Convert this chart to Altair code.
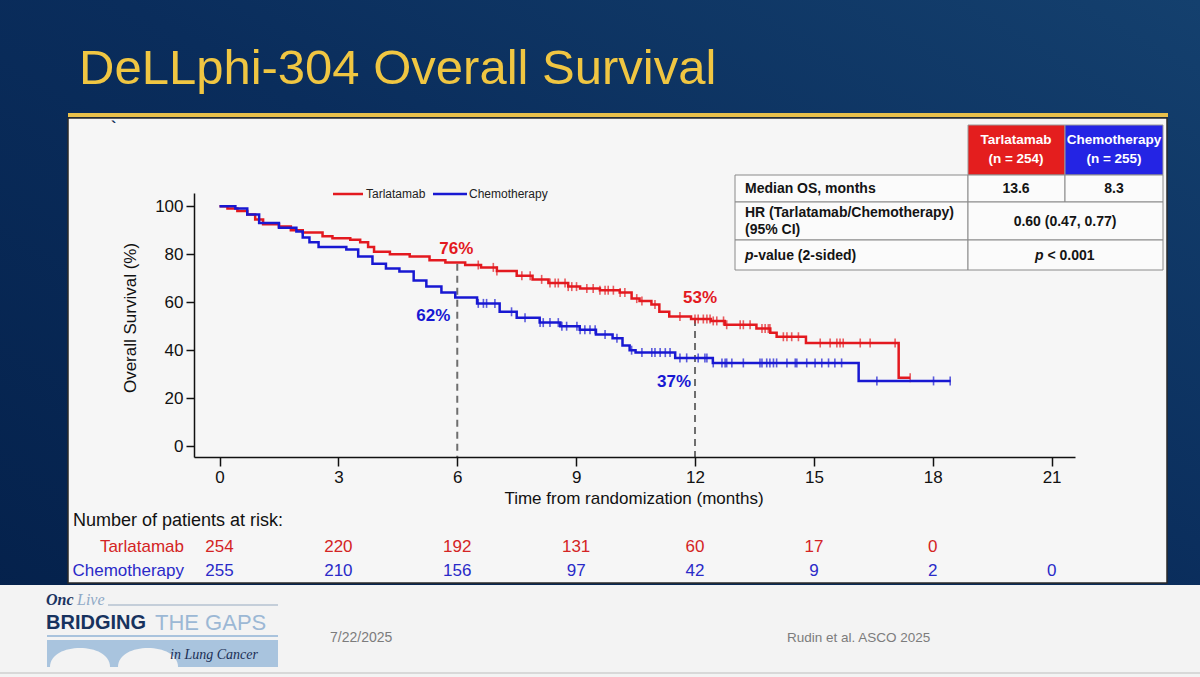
import altair as alt
import numpy as np
import pandas as pd

FONT = "Liberation Sans"
SERIF = "Liberation Serif"

# ---------------- data ----------------
arms = ["Tarlatamab", "Chemotherapy"]
arm_colors = ["#E3191F", "#1818D2"]
risk_colors = ["#D42424", "#2A2AC8"]

tar_time = [0, 0.2, 0.45, 0.7, 0.9, 1.1, 1.5, 1.8, 2.1, 2.6, 2.85, 3.3, 3.55, 3.75, 3.9,
            4.3, 4.8, 5.3, 5.7, 6.2, 6.6, 7.0, 7.5, 7.9, 8.3, 8.8, 9.1, 9.6, 10.1, 10.4,
            10.6, 10.9, 11.1, 11.35, 11.9, 12.4, 12.75, 13.55, 13.9, 14.06, 14.8, 17.14, 17.43]
tar_surv = [100, 99, 98, 96.5, 94.5, 92.5, 91.5, 90, 89, 87.5, 86.6, 86, 85, 83, 81,
            80, 79, 77.5, 76.5, 75.5, 74.5, 73, 71, 69.5, 68, 66.5, 65.7, 65, 64, 61.5,
            60.5, 59, 56, 54, 53, 52.2, 50.6, 49, 47.3, 45.6, 43, 28.5, 28.5]

chemo_time = [0, 0.4, 0.7, 1.0, 1.5, 1.94, 2.1, 2.27, 2.5, 3.2, 3.5, 3.86, 4.2, 4.54, 4.9,
              5.22, 5.6, 5.95, 6.5, 7.07, 7.5, 8.08, 8.6, 9.09, 9.5, 9.92, 10.17, 10.35, 10.5,
              11.5, 12.45, 16.13, 18.45]
chemo_surv = [100, 99, 96.5, 93, 91, 89.5, 87, 85, 83, 82, 79, 76, 74, 72.8, 69,
              66.5, 64, 62, 59.5, 56, 53.5, 51.5, 50, 48.5, 46.5, 45, 42, 40, 39,
              36.8, 34.7, 27.2, 27.2]

tar_censor = [6.53, 6.91, 7.0, 7.63, 7.84, 8.13, 8.34, 8.47, 8.55, 8.72, 8.8, 8.89, 9.01, 9.27,
              9.43, 9.6, 9.73, 9.81, 9.94, 10.11, 10.23, 10.53, 10.66, 10.99, 11.62, 12.0, 12.08,
              12.21, 12.3, 12.38, 12.46, 12.55, 12.72, 12.8, 13.14, 13.22, 13.39, 13.69, 13.77,
              13.85, 13.89, 14.23, 14.32, 14.44, 14.61, 15.16, 15.41, 15.58, 15.66, 15.74, 16.17,
              16.42, 17.05, 17.43]
chemo_censor = [6.53, 6.66, 6.74, 6.95, 7.37, 7.71, 8.09, 8.17, 8.34, 8.55, 8.64, 8.76, 9.02, 9.1,
                9.22, 9.35, 9.48, 9.73, 10.03, 10.4, 10.66, 10.91, 10.99, 11.12, 11.25, 11.37,
                11.62, 11.79, 12.08, 12.25, 12.3, 12.46, 12.68, 12.76, 12.8, 12.93, 13.22, 13.64,
                13.69, 13.81, 13.89, 13.98, 14.06, 14.32, 14.53, 14.57, 14.82, 15.03, 15.2, 15.37,
                15.53, 15.7, 16.59, 18.02, 18.44]

landmark_time = [6, 12]
tar_landmark = [76, 53]
chemo_landmark = [62, 37]

risk_time = [0, 3, 6, 9, 12, 15, 18, 21]
tar_risk = [254, 220, 192, 131, 60, 17, 0]
chemo_risk = [255, 210, 156, 97, 42, 9, 2, 0]

x_ticks = [0, 3, 6, 9, 12, 15, 18, 21]
y_ticks = [0, 20, 40, 60, 80, 100]

# ---------------- frames ----------------
curves = {
    "Tarlatamab": pd.DataFrame({"t": tar_time, "s": tar_surv}),
    "Chemotherapy": pd.DataFrame({"t": chemo_time, "s": chemo_surv}),
}


def step_value(times, surv, t):
    idx = np.searchsorted(np.array(times), np.array(t), side="right") - 1
    return list(np.array(surv)[idx])


censors = {
    "Tarlatamab": pd.DataFrame({"t": tar_censor, "s": step_value(tar_time, tar_surv, tar_censor)}),
    "Chemotherapy": pd.DataFrame({"t": chemo_censor, "s": step_value(chemo_time, chemo_surv, chemo_censor)}),
}
risks = {
    "Tarlatamab": pd.DataFrame({"t": risk_time[:len(tar_risk)], "n": tar_risk}),
    "Chemotherapy": pd.DataFrame({"t": risk_time[:len(chemo_risk)], "n": chemo_risk}),
}
landmarks = pd.DataFrame({"t": landmark_time, "top": tar_landmark})

# ---------------- layout ----------------
OX, OY = 194, 193          # plot-area origin on the page
W, H = 881, 264
XDOM = [-0.644, 21.59]
YDOM = [-4.5, 105.5]
one = pd.DataFrame({"k": [0]})

xs = alt.Scale(domain=XDOM, nice=False, zero=False)
ys = alt.Scale(domain=YDOM, nice=False, zero=False)
AX_X = alt.Axis(values=x_ticks, title=None, grid=False, labelFont=FONT, labelFontSize=17,
                labelColor="#111111", tickSize=9, tickWidth=1.5, tickColor="#111111",
                domainColor="#111111", domainWidth=1.5, labelPadding=3, labelFlush=False,
                zindex=1, format="d")
AX_Y = alt.Axis(values=y_ticks, title=None, grid=False, labelFont=FONT, labelFontSize=17,
                labelColor="#111111", tickSize=8, tickWidth=1.5, tickColor="#111111",
                domainColor="#111111", domainWidth=1.5, labelPadding=3, zindex=1, format="d")


def px(x):
    return x - OX


def py(y):
    return y - OY


def rect(x0, y0, x1, y1, fill, **kw):
    return alt.Chart(one).mark_rect(fill=fill, **kw).encode(
        x=alt.value(px(x0)), x2=alt.value(px(x1)), y=alt.value(py(y0)), y2=alt.value(py(y1)))


def hline(x0, x1, y, color, width, **kw):
    return alt.Chart(one).mark_rule(color=color, strokeWidth=width, **kw).encode(
        x=alt.value(px(x0)), x2=alt.value(px(x1)), y=alt.value(py(y)))


def text(s, x, y, size, color, weight="normal", align="left", style="normal",
         font=FONT, baseline="middle", **kw):
    return alt.Chart(one).mark_text(text=s, fontSize=size, color=color, fontWeight=weight,
                                    align=align, fontStyle=style, font=font,
                                    baseline=baseline, **kw).encode(
        x=alt.value(px(x)), y=alt.value(py(y)))


layers = []

# slide background
grad = alt.Gradient(gradient="linear", x1=0, y1=1, x2=1, y2=0,
                    stops=[alt.GradientStop(color="#04204A", offset=0),
                           alt.GradientStop(color="#0A2D5C", offset=0.55),
                           alt.GradientStop(color="#14406E", offset=1)])
layers.append(rect(0, 0, 1200, 677, grad))
layers.append(rect(0, 585, 1200, 677, "#F3F3F3"))
layers.append(hline(0, 1200, 673, "#CFCFCF", 1.5))

# title + yellow rule
layers.append(text("DeLLphi-304 Overall Survival", 79, 84, 49, "#F0C642", baseline="alphabetic"))
layers.append(rect(68, 113, 1168, 117, "#E9C04A"))

# white panel
layers.append(rect(68, 118, 1167, 583, "#F6F6F6", stroke="#2A2A2A", strokeWidth=1.5))
layers.append(text("`", 111, 128, 16, "#0E2B55", weight="bold"))

# summary table
layers.append(rect(968, 125, 1065, 175, "#E41E1E", stroke="#9A9A9A", strokeWidth=1))
layers.append(rect(1065, 125, 1163, 175, "#2424E4", stroke="#9A9A9A", strokeWidth=1))
for (y0, y1) in [(175, 202), (202, 240), (240, 270)]:
    layers.append(rect(735, y0, 968, y1, "#FBFBFB", stroke="#8A8A8A", strokeWidth=1))
layers.append(rect(968, 175, 1065, 202, "#FBFBFB", stroke="#8A8A8A", strokeWidth=1))
layers.append(rect(1065, 175, 1163, 202, "#FBFBFB", stroke="#8A8A8A", strokeWidth=1))
layers.append(rect(968, 202, 1163, 240, "#FBFBFB", stroke="#8A8A8A", strokeWidth=1))
layers.append(rect(968, 240, 1163, 270, "#FBFBFB", stroke="#8A8A8A", strokeWidth=1))
for xc, name, n in [(1016, arms[0], "(n = 254)"), (1114, arms[1], "(n = 255)")]:
    layers.append(text(name, xc, 140, 13.5, "#FFFFFF", weight="bold", align="center"))
    layers.append(text(n, xc, 159, 13.5, "#FFFFFF", weight="bold", align="center"))
TC = "#141414"
layers.append(text("Median OS, months", 745, 189, 14, TC, weight="bold"))
layers.append(text("13.6", 1016, 189, 14, TC, weight="bold", align="center"))
layers.append(text("8.3", 1114, 189, 14, TC, weight="bold", align="center"))
layers.append(text("HR (Tarlatamab/Chemotherapy)", 745, 213, 14, TC, weight="bold"))
layers.append(text("(95% CI)", 745, 230, 14, TC, weight="bold"))
layers.append(text("0.60 (0.47, 0.77)", 1065, 222, 14, TC, weight="bold", align="center"))
layers.append(text("p", 745, 256, 14, TC, weight="bold", style="italic"))
layers.append(text("-value (2-sided)", 753.5, 256, 14, TC, weight="bold"))
layers.append(text("p", 1035, 256, 14, TC, weight="bold", style="italic"))
layers.append(text("< 0.001", 1047.5, 256, 14, TC, weight="bold"))

# legend
layers.append(hline(333, 363, 194, arm_colors[0], 2.5))
layers.append(text(arms[0], 366, 194, 12, "#222222"))
layers.append(hline(433, 467, 194, arm_colors[1], 2.5))
layers.append(text(arms[1], 469, 194, 12, "#222222"))

# landmark dashed lines
layers.append(alt.Chart(landmarks).mark_rule(color="#6E6E6E", strokeWidth=2, strokeDash=[7, 5]).encode(
    x=alt.X("t:Q", scale=xs, axis=AX_X), y=alt.Y("top:Q", scale=ys, axis=AX_Y), y2=alt.value(H)))

# KM curves and censor ticks
for arm, col in zip(arms, arm_colors):
    layers.append(alt.Chart(curves[arm]).mark_line(interpolate="step-after", color=col, strokeWidth=2.5).encode(
        x=alt.X("t:Q", scale=xs, axis=AX_X), y=alt.Y("s:Q", scale=ys, axis=AX_Y)))
    layers.append(alt.Chart(censors[arm]).mark_tick(orient="vertical", color=col, size=9, thickness=1.6).encode(
        x=alt.X("t:Q", scale=xs, axis=AX_X), y=alt.Y("s:Q", scale=ys, axis=AX_Y)))

# landmark annotations
ann = [
    (landmark_time[0], tar_landmark[0], arm_colors[0], -1, -15),
    (landmark_time[0], chemo_landmark[0], arm_colors[1], -24, 19),
    (landmark_time[1], tar_landmark[1], arm_colors[0], 5, -21),
    (landmark_time[1], chemo_landmark[1], arm_colors[1], -21, 25),
]
for t, v, col, dx, dy in ann:
    d = pd.DataFrame({"t": [t], "v": [v], "lab": [f"{v}%"]})
    layers.append(alt.Chart(d).mark_text(font=FONT, fontSize=17, fontWeight="bold", color=col,
                                         dx=dx, dy=dy, baseline="middle", align="center").encode(
        x=alt.X("t:Q", scale=xs, axis=AX_X), y=alt.Y("v:Q", scale=ys, axis=AX_Y), text="lab:N"))

# axis titles
layers.append(text("Time from randomization (months)", 634, 499, 17, "#111111", align="center"))
layers.append(text("Overall Survival (%)", 131, 318, 17, "#111111", align="center", angle=270))

# numbers at risk
layers.append(text("Number of patients at risk:", 73, 521, 18, "#111111"))
for arm, col, yrow in zip(arms, risk_colors, [547, 571]):
    layers.append(text(arm, 184, yrow, 17, col, align="right"))
    layers.append(alt.Chart(risks[arm]).mark_text(font=FONT, fontSize=17, color=col, baseline="middle",
                                                  align="center").encode(
        x=alt.X("t:Q", scale=xs, axis=AX_X), y=alt.value(py(yrow)), text="n:Q"))

# footer
layers.append(text("Onc", 46, 600, 16, "#1B3461", weight="bold", style="italic", font=SERIF))
layers.append(text("Live", 77, 600, 16, "#8FA9C6", style="italic", font=SERIF))
layers.append(hline(108, 278, 605, "#B4C2D0", 1.5))
layers.append(text("BRIDGING", 46, 623, 20, "#17325E", weight="bold"))
layers.append(text("THE GAPS", 155, 623, 22, "#9CB8D5"))
layers.append(hline(47, 278, 636, "#A9C3DD", 2))
layers.append(rect(47, 640, 278, 667, "#A9C4DE"))
arch = "M -1 0 C -1 -0.84 1 -0.84 1 0 Z"
for xc in [80, 148]:
    layers.append(alt.Chart(one).mark_point(shape=arch, filled=True, fill="#F3F3F3", strokeWidth=0,
                                            size=3600, opacity=1).encode(
        x=alt.value(px(xc)), y=alt.value(py(667))))
layers.append(text("in Lung Cancer", 170, 655, 14, "#1B2F55", style="italic", font=SERIF))
layers.append(text("7/22/2025", 330, 638, 14, "#7C7C7C"))
layers.append(text("Rudin et al. ASCO 2025", 787, 638, 13.5, "#7C7C7C"))

chart = alt.layer(*layers).properties(
    width=W, height=H,
    padding={"left": OX, "top": OY, "right": 1200 - OX - W, "bottom": 677 - OY - H},
    autosize=alt.AutoSizeParams(type="none"),
    background="#0B2F5E",
).configure_view(strokeWidth=0)

chart.save("out.html", embed_options={"renderer": "svg", "actions": False})
